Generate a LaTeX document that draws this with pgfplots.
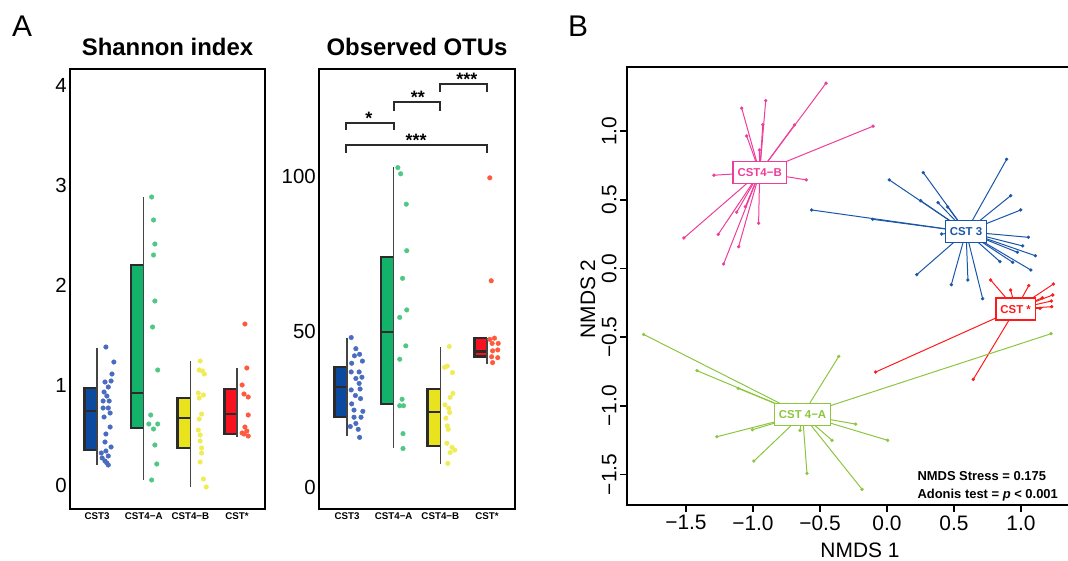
\documentclass[border=0pt]{standalone}
\usepackage{fontspec}
\setmainfont{Liberation Sans}
\usepackage{pgfplots}
\usepackage{pgfplotstable}
\pgfplotsset{compat=1.18}

\definecolor{cblue}{HTML}{0B4A9E}
\definecolor{cbluept}{HTML}{4A6CC0}
\definecolor{cgreen}{HTML}{13B26B}
\definecolor{cgreenpt}{HTML}{4FC886}
\definecolor{cyellow}{HTML}{E8E31C}
\definecolor{cyellowpt}{HTML}{F0EC55}
\definecolor{cred}{HTML}{F8121F}
\definecolor{credpt}{HTML}{FF5A3E}
\definecolor{boxedge}{HTML}{2B2B2B}
\definecolor{whisk}{HTML}{444444}
\definecolor{bpink}{HTML}{EE3E9B}
\definecolor{bblue}{HTML}{1A56A8}
\definecolor{bred}{HTML}{FF1A1A}
\definecolor{bgreen}{HTML}{8CC63F}

% half box: pos, left edge, lower whisker, q1, median, q3, upper whisker, fill
\newcommand{\halfbox}[8]{%
  \addplot[fill=#8, draw=none] coordinates {(#2,#4) (#1,#4) (#1,#6) (#2,#6)} --cycle;
  \addplot[draw=boxedge, line width=2.6bp] coordinates {(#1,#6) (#2,#6) (#2,#4) (#1,#4)};
  \addplot[draw=boxedge, line width=2.6bp] coordinates {(#2,#5) (#1,#5)};
  \addplot[draw=whisk, line width=1.3bp] coordinates {(#1,#3) (#1,#7)};
}

% ---- Shannon index points
\pgfplotstableread{
x y
1.19 1.38
1.36 1.23
1.32 1.11
1.30 1.04
1.17 1.03
1.24 0.98
1.15 0.93
1.21 0.89
1.26 0.84
1.13 0.84
1.13 0.77
1.24 0.77
1.28 0.72
1.15 0.68
1.28 0.58
1.19 0.51
1.17 0.43
1.30 0.38
1.19 0.34
1.09 0.32
1.24 0.29
1.11 0.27
1.17 0.24
1.21 0.22
1.24 0.20
}\shA
\pgfplotstableread{
x y
2.17 2.88
2.21 2.65
2.24 2.41
2.21 2.30
2.24 1.84
2.19 1.58
2.30 1.15
2.15 0.70
2.11 0.61
2.30 0.61
2.21 0.56
2.24 0.40
2.28 0.21
2.17 0.05
}\shB
\pgfplotstableread{
x y
3.21 1.24
3.19 1.15
3.26 1.14
3.30 1.11
3.17 0.92
3.28 0.90
3.19 0.87
3.24 0.71
3.19 0.66
3.17 0.55
3.21 0.50
3.21 0.44
3.24 0.37
3.24 0.32
3.21 0.23
3.28 0.06
3.34 -0.02
}\shC
\pgfplotstableread{
x y
4.17 1.61
4.21 1.17
4.11 1.00
4.15 0.91
4.24 0.88
4.24 0.70
4.17 0.58
4.21 0.54
4.11 0.52
4.15 0.51
4.24 0.49
}\shD

% ---- Observed OTUs points
\pgfplotstableread{
x y
1.09 48.2
1.19 44.6
1.16 42.3
1.27 42.8
1.33 40.6
1.10 39.9
1.09 37.1
1.26 37.1
1.19 35.0
1.32 35.4
1.26 33.4
1.09 31.3
1.28 31.6
1.18 29.5
1.29 28.5
1.10 26.8
1.15 24.8
1.34 24.4
1.15 22.5
1.30 22.5
1.07 19.5
1.19 20.5
1.24 18.6
1.27 16.0
}\otA
\pgfplotstableread{
x y
2.09 103.0
2.15 101.0
2.27 91.2
2.28 76.2
2.19 67.3
2.28 57.1
2.13 54.7
2.26 45.5
2.13 41.2
2.18 28.3
2.13 26.2
2.21 26.2
2.20 17.2
2.20 12.4
}\otB
\pgfplotstableread{
x y
3.19 45.3
3.09 38.6
3.15 39.0
3.26 36.9
3.27 30.2
3.21 28.9
3.10 26.5
3.18 25.4
3.20 24.0
3.12 22.2
3.15 19.7
3.17 18.6
3.14 14.1
3.25 12.8
3.21 11.1
3.31 11.9
3.16 7.6
}\otC
\pgfplotstableread{
x y
4.06 99.7
4.09 66.5
4.16 48.0
4.06 47.6
4.24 46.3
4.11 46.3
4.23 44.2
4.12 43.9
4.23 41.7
4.10 42.0
4.12 40.1
}\otD

% ---- NMDS samples, one table per group
\pgfplotstableread{
x y
-1.515 0.222
-1.259 0.249
-1.219 0.033
-1.122 0.409
-1.107 0.159
-1.057 0.450
-0.958 0.329
-1.291 0.679
-0.602 0.645
-1.084 1.167
-1.047 0.965
-0.905 1.222
-0.927 1.047
-0.952 0.863
-0.691 1.045
-0.455 1.349
-0.104 1.036
}\nmB
\pgfplotstableread{
x y
-0.562 0.426
-0.107 0.358
0.017 0.645
0.251 0.494
0.271 0.698
0.381 0.479
0.453 0.448
0.893 0.795
0.923 0.530
0.998 0.426
1.055 0.227
1.013 0.164
0.973 0.118
1.107 0.093
0.938 0.045
0.843 0.050
1.073 -0.011
0.714 -0.220
0.604 -0.084
0.480 -0.118
0.222 -0.045
0.408 0.251
}\nmC
\pgfplotstableread{
x y
0.774 -0.084
0.923 -0.157
1.058 -0.125
1.242 -0.113
1.237 -0.193
1.160 -0.213
1.227 -0.237
1.229 -0.278
1.142 -0.290
-0.085 -0.754
0.644 -0.807
}\nmS
\pgfplotstableread{
x y
-1.816 -0.480
-1.418 -0.744
-1.110 -0.873
-1.269 -1.225
-1.004 -1.174
-0.993 -1.402
-0.649 -1.178
-0.597 -1.492
-0.360 -0.640
-0.233 -1.133
-0.410 -1.251
-0.186 -1.608
0.005 -1.251
1.224 -0.475
}\nmA
% offsets from each sample to its group centroid
\pgfplotstablecreatecol[expr={-0.95-\thisrow{x}}]{u}{\nmB}
\pgfplotstablecreatecol[expr={0.70-\thisrow{y}}]{v}{\nmB}
\pgfplotstablecreatecol[expr={0.59-\thisrow{x}}]{u}{\nmC}
\pgfplotstablecreatecol[expr={0.268-\thisrow{y}}]{v}{\nmC}
\pgfplotstablecreatecol[expr={0.96-\thisrow{x}}]{u}{\nmS}
\pgfplotstablecreatecol[expr={-0.296-\thisrow{y}}]{v}{\nmS}
\pgfplotstablecreatecol[expr={-0.63-\thisrow{x}}]{u}{\nmA}
\pgfplotstablecreatecol[expr={-1.065-\thisrow{y}}]{v}{\nmA}

\pgfplotsset{
  panelA/.style={
    anchor=south west, scale only axis, height=440bp,
    axis line style={line width=2.6bp},
    major tick length=0pt,
    xtick={1,2,3,4},
    xticklabels={CST3,CST4−A,CST4−B,CST*},
    xticklabel style={font=\fontsize{9.8}{11}\selectfont\bfseries, inner sep=0pt, yshift=-3.5bp},
    yticklabel style={font=\fontsize{20.5}{24}\selectfont, inner sep=0pt, xshift=-3bp},
    title style={font=\fontsize{24}{28}\selectfont\bfseries, at={(0.5,1)}, anchor=base, yshift=7.5bp, inner sep=0pt},
    /pgf/number format/assume math mode=true,
    clip=false,
  },
  pts/.style={only marks, mark=*, mark size=2.3bp, mark options={draw=#1, fill=#1}},
  spokes/.style={#1, line width=1bp, quiver={u=\thisrow{u}, v=\thisrow{v}}},
  spts/.style={only marks, mark=*, mark size=1.5bp, mark options={draw=#1, fill=#1}},
}
\tikzset{
  grp/.style={draw=#1, fill=white, text=#1, line width=1.3bp,
    font=\fontsize{11.5}{13}\selectfont\bfseries, inner xsep=4.5bp, minimum height=22bp},
}

\begin{document}
\begin{tikzpicture}
\useasboundingbox (0,0) rectangle (1068bp,561bp);

% ---------------- Shannon index
\begin{axis}[panelA, at={(70bp,52bp)}, width=195bp,
  xmin=0.42, xmax=4.6, ymin=-0.24, ymax=4.16, ytick={0,1,2,3,4},
  title={Shannon index}]
\halfbox{1}{0.73}{0.20}{0.35}{0.74}{0.97}{1.37}{cblue}
\halfbox{2}{1.73}{0.05}{0.57}{0.92}{2.20}{2.88}{cgreen}
\halfbox{3}{2.73}{-0.02}{0.37}{0.67}{0.87}{1.24}{cyellow}
\halfbox{4}{3.73}{0.48}{0.51}{0.71}{0.96}{1.17}{cred}
\addplot[pts=cbluept] table {\shA};
\addplot[pts=cgreenpt] table {\shB};
\addplot[pts=cyellowpt] table {\shC};
\addplot[pts=credpt] table {\shD};
\end{axis}

% ---------------- Observed OTUs
\begin{axis}[panelA, at={(319bp,52bp)}, width=196bp,
  xmin=0.40, xmax=4.6, ymin=-7.1, ymax=134.8, ytick={0,50,100},
  title={Observed OTUs}]
\halfbox{1}{0.73}{16.5}{22.6}{32.3}{38.7}{48.0}{cblue}
\halfbox{2}{1.73}{12.6}{26.8}{50.0}{74.2}{103.2}{cgreen}
\halfbox{3}{2.73}{7.4}{13.2}{24.2}{31.6}{45.2}{cyellow}
\halfbox{4}{3.73}{39.7}{42.0}{43.7}{48.0}{48.2}{cred}
\addplot[pts=cbluept] table {\otA};
\addplot[pts=cgreenpt] table {\otB};
\addplot[pts=cyellowpt] table {\otC};
\addplot[pts=credpt] table {\otD};
% significance brackets
\addplot[boxedge, line width=2.2bp] coordinates {(0.97,115.2) (0.97,117.4) (2.0,117.4) (2.0,115.2)};
\addplot[boxedge, line width=2.2bp] coordinates {(2.0,121.3) (2.0,124.2) (3.0,124.2) (3.0,121.3)};
\addplot[boxedge, line width=2.2bp] coordinates {(3.0,127.4) (3.0,130.0) (4.0,130.0) (4.0,127.4)};
\addplot[boxedge, line width=2.2bp] coordinates {(0.97,107.7) (0.97,110.3) (4.0,110.3) (4.0,107.7)};
\begin{scope}[every node/.style={anchor=base, inner sep=0pt, yshift=-2bp, font=\fontsize{18}{20}\selectfont\bfseries}]
\node at (axis cs:1.47,117.4) {*};
\node at (axis cs:2.52,124.2) {**};
\node at (axis cs:3.57,130.0) {***};
\node at (axis cs:2.48,110.3) {***};
\end{scope}
\end{axis}

% ---------------- NMDS
\begin{axis}[at={(627bp,56bp)}, anchor=south west, scale only axis,
  width=448bp, height=438bp,
  xmin=-1.940, xmax=1.403, ymin=-1.722, ymax=1.467,
  axis line style={line width=2bp},
  tick align=outside, major tick length=7bp,
  xtick pos=bottom, ytick pos=left,
  tick style={line width=1.5bp, black},
  xtick={-1.5,-1,-0.5,0,0.5,1},
  xticklabels={−1.5,−1.0,−0.5,0.0,0.5,1.0},
  ytick={-1.5,-1,-0.5,0,0.5,1},
  yticklabels={−1.5,−1.0,−0.5,0.0,0.5,1.0},
  xticklabel style={font=\fontsize{21}{24}\selectfont},
  yticklabel style={font=\fontsize{21}{24}\selectfont, rotate=90, anchor=south},
]
\addplot[spokes=bpink] table {\nmB};
\addplot[spokes=bblue] table {\nmC};
\addplot[spokes=bred] table {\nmS};
\addplot[spokes=bgreen] table {\nmA};
\addplot[spts=bpink] table {\nmB};
\addplot[spts=bblue] table {\nmC};
\addplot[spts=bred] table {\nmS};
\addplot[spts=bgreen] table {\nmA};
\node[grp=bpink] at (axis cs:-0.95,0.70) {CST4−B};
\node[grp=bblue] at (axis cs:0.59,0.268) {CST 3};
\node[grp=bred] at (axis cs:0.96,-0.296) {CST *};
\node[grp=bgreen] at (axis cs:-0.63,-1.065) {CST 4−A};
\end{axis}

% ---------------- outside text
\node[anchor=base, font=\fontsize{30}{34}\selectfont] at (22bp,524bp) {A};
\node[anchor=base, font=\fontsize{30}{34}\selectfont] at (578bp,524bp) {B};
\node[anchor=base, font=\fontsize{21}{24}\selectfont] at (860bp,4bp) {NMDS 1};
\node[anchor=base, rotate=90, font=\fontsize{21}{24}\selectfont] at (595bp,262bp) {NMDS 2};
\node[anchor=base west, font=\fontsize{13}{15}\selectfont\bfseries] at (914bp,80bp) {NMDS Stress = 0.175};
\node[anchor=base west, font=\fontsize{13}{15}\selectfont\bfseries] at (914bp,62bp) {Adonis test = \textit{p} < 0.001};
\end{tikzpicture}
\end{document}
